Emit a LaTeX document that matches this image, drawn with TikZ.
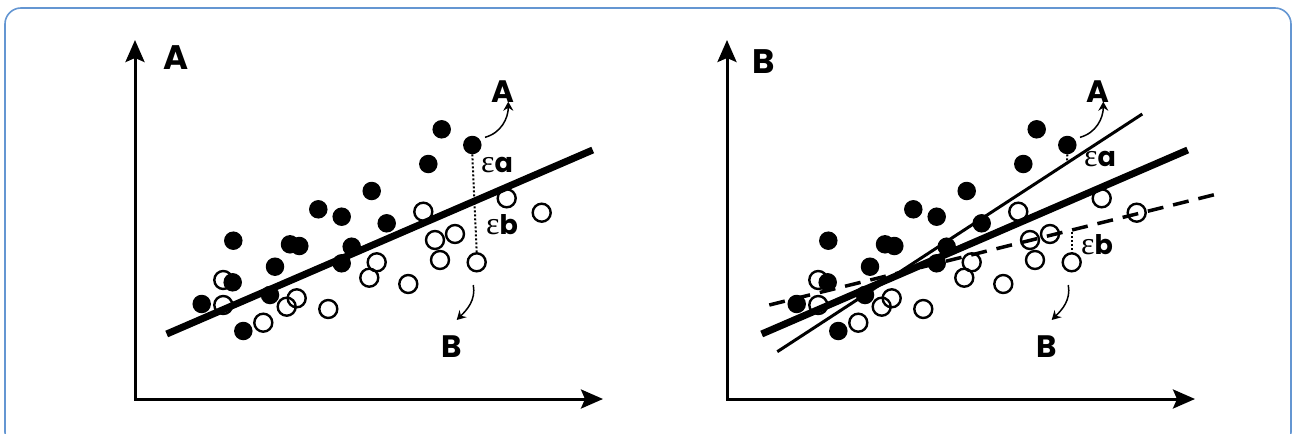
\documentclass[tikz,border=0pt]{standalone}
\usepackage{fontspec}
\setmainfont{Poppins}
\newfontfamily\epsfont{Liberation Serif}
\usetikzlibrary{arrows.meta}
\definecolor{frameblue}{RGB}{100,150,210}
\newcommand\epsA{{\epsfont\mdseries\fontsize{32}{32}\selectfont ε}}
\tikzset{
  dotfill/.style={circle,fill=black,inner sep=0pt,minimum size=18.5pt},
  dotopen/.style={circle,draw=black,line width=2.4pt,inner sep=0pt,minimum size=18pt},
  axisline/.style={line width=3pt,line join=miter,
    {Stealth[length=22pt,width=19pt,inset=4pt]}-{Stealth[length=22pt,width=19pt,inset=4pt]}},
  fitthick/.style={line width=7pt},
  fitthin/.style={line width=3pt},
  fitdash/.style={line width=3.5pt,dash pattern=on 16pt off 10pt},
  errline/.style={line width=2pt,dash pattern=on 2pt off 2pt},
  curvarrow/.style={line width=1.5pt,-{Stealth[length=9pt,width=10pt,inset=3pt]}},
  biglabel/.style={font=\fontsize{34}{36}\selectfont\bfseries,inner sep=0pt},
  smalllabel/.style={font=\fontsize{31}{33}\selectfont\bfseries,inner sep=0pt},
  errlabel/.style={font=\fontsize{27}{29}\selectfont\bfseries,inner sep=0pt},
  framebox/.style={draw=frameblue,line width=1.6pt,rounded corners=16pt}
}
\newcommand\pointcloud[1]{%
  \foreach \px/\py [count=\i] in {506.7/198.3,541.7/212.7,423.3/211.7,435/240,455/234,440/260,476.7/262.3,376.7/262.3,369.3/277.7,408.3/284,223.3/280,223.3/305,296.7/298.3,286.7/306.7,328.3/309,263.3/322.7}
    {\node[dotopen] (#1o\i) at (\px,\py) {};}
  \foreach \px/\py [count=\i] in {441.7/129.3,472.3/145,428.3/164,371.7/191,318.3/209.3,341.7/216.7,386.7/223.3,233.3/240.7,290/244.3,299.3/246,351.7/246.7,341.7/263.3,275/266.7,232.7/282.3,270/295,201.7/304,243.3/331}
    {\node[dotfill] (#1f\i) at (\px,\py) {};}
}
\begin{document}
\begin{tikzpicture}[x=1pt,y=-1pt]
\useasboundingbox (0,0) rectangle (1294,434);
\begin{scope}
  \clip (0,0) rectangle (1294,434);
  \draw[framebox] (5,8) rectangle (1291,448);
\end{scope}

% ---------- left panel ----------
\coordinate (Ltop) at (135,40);
\coordinate (Lorg) at (135,399);
\coordinate (Lrgt) at (603,399);
\draw[axisline] (Ltop) -- (Lorg) -- (Lrgt);
\node[biglabel] (LaxA) at (175.7,57.7) {A};

\pointcloud{L}
\coordinate (LfitS) at (166.7,334);
\coordinate (LfitE) at (592.7,150);
\draw[fitthick] (LfitS) -- (LfitE);

\draw[errline] (Lf2.south) -- (Lo7.north);
\node[errlabel] (Lea) at (497,165) {\epsA a};
\node[errlabel] (Leb) at (502,225) {\epsA b};

\node[smalllabel] (LsA) at (503.3,91.7) {A};
\node[smalllabel] (LsB) at (451.7,347) {B};
\coordinate (LarS) at (485,137.3);
\coordinate (LarE) at (508.3,101.7);
\draw[curvarrow] (LarS) to[out=15,in=-90] (LarE);
\coordinate (LbrS) at (473.3,285);
\coordinate (LbrE) at (456.7,320);
\draw[curvarrow] (LbrS) to[out=-80,in=45] (LbrE);

% ---------- right panel ----------
\coordinate (Rtop) at (727,40);
\coordinate (Rorg) at (727,399);
\coordinate (Rrgt) at (1195,399);
\draw[axisline] (Rtop) -- (Rorg) -- (Rrgt);
\node[biglabel] (RaxB) at (763.5,61.5) {B};

\begin{scope}[xshift=595pt]
  \pointcloud{R}
\end{scope}
\coordinate (RfitS) at (761.7,334);
\coordinate (RfitE) at (1187.7,150);
\draw[fitthick] (RfitS) -- (RfitE);
\coordinate (RthS) at (777.3,351.7);
\coordinate (RthE) at (1142.3,114);
\draw[fitthin] (RthS) -- (RthE);
\coordinate (RdaS) at (769.3,305);
\coordinate (RdaE) at (1220,193.3);
\draw[fitdash] (RdaS) -- (RdaE);

\coordinate (RerrA) at (1067,161);
\draw[errline] (Rf2.south) -- (RerrA);
\coordinate (RerrB) at (1071.7,232);
\draw[errline] (RerrB) -- (Ro7.north);
\node[errlabel] (Rea) at (1100,159) {\epsA a};
\node[errlabel] (Reb) at (1097,245) {\epsA b};

\node[smalllabel] (RsA) at (1098.3,91.7) {A};
\node[smalllabel] (RsB) at (1046.7,347) {B};
\coordinate (RarS) at (1080,137.3);
\coordinate (RarE) at (1103.3,101.7);
\draw[curvarrow] (RarS) to[out=15,in=-90] (RarE);
\coordinate (RbrS) at (1068.3,285);
\coordinate (RbrE) at (1051.7,320);
\draw[curvarrow] (RbrS) to[out=-80,in=45] (RbrE);
\end{tikzpicture}
\end{document}
